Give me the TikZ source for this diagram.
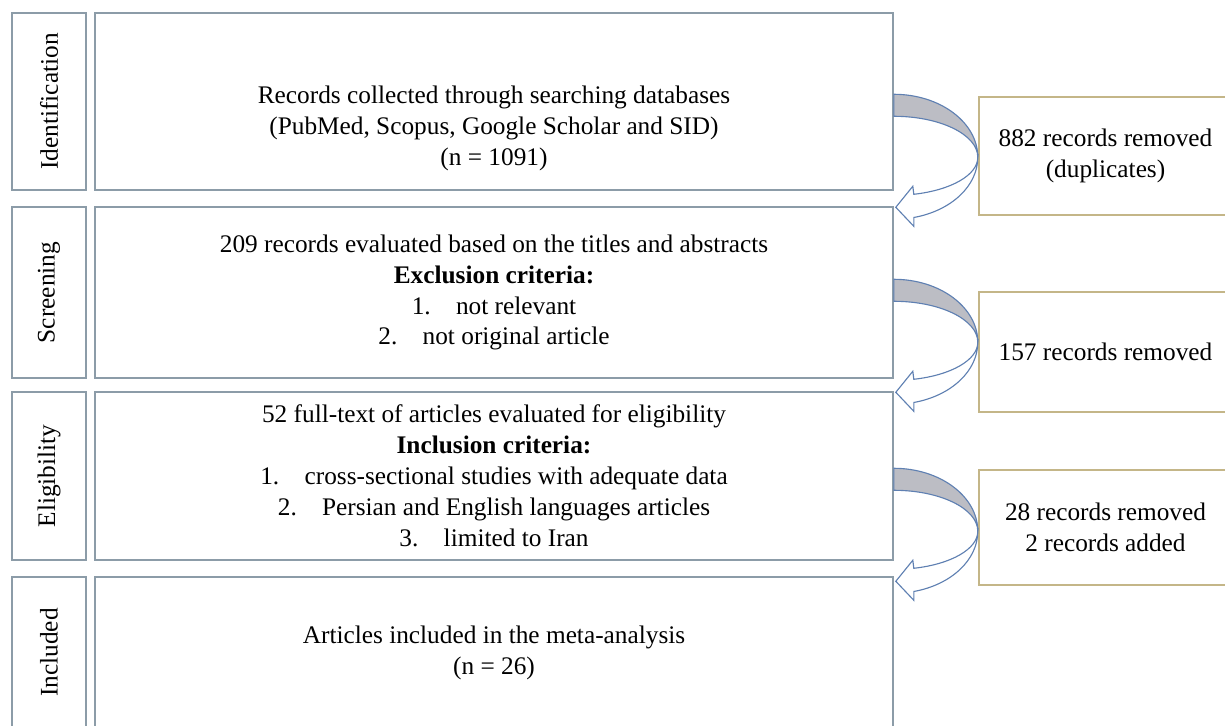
\documentclass[tikz,border=0pt]{standalone}
\usepackage{fontspec}
\setmainfont{Liberation Serif}
\usepackage{xcolor}
\usepackage{tikz}
\usetikzlibrary{calc}
\definecolor{boxgray}{RGB}{140, 156, 168}
\definecolor{boxkhaki}{RGB}{196, 182, 136}
\definecolor{arrowblue}{RGB}{95, 128, 178}
\definecolor{arrowgray}{RGB}{188, 189, 196}

\begin{document}
\begin{tikzpicture}[
	x=0.025cm, y=-0.025cm,
	every node/.style={font=\fontsize{18}{22}\selectfont, align=center},
	stagebox/.style={draw=boxgray, line width=1pt, rotate=90, minimum height=1.85cm},
	mainbox/.style={draw=boxgray, line width=1pt, minimum width=19.95cm},
	sidebox/.style={draw=boxkhaki, line width=1pt, minimum width=6.325cm},
	arrowline/.style={draw=arrowblue, line width=0.8pt},
	bendarrow/.pic={
		\filldraw[arrowline, fill=arrowgray]
			(0,0) arc[start angle=-90, end angle=0, x radius=84, y radius=63]
			arc[start angle=0, end angle=-90, x radius=84, y radius=41] -- cycle;
		\filldraw[arrowline, fill=white]
			(84,63) arc[start angle=0, end angle=76.2, x radius=84, y radius=62]
			-- (20,132) -- (2,113) -- (19,92) -- (20,100)
			arc[start angle=76.2, end angle=0, x radius=84, y radius=38] -- cycle;
	}
	]
	
	\path[use as bounding box, clip]
		(0,0) rectangle (1225,725);
	
	% stages
	\node[stagebox, minimum width=4.425cm] (ident) at (49,101.5) {Identification};
	\node[stagebox, minimum width=4.275cm] (screen) at (49,292.5) {Screening};
	\node[stagebox, minimum width=4.2cm] (elig) at (49,476) {Eligibility};
	\node[stagebox, minimum width=3.775cm] (incl) at (49,652.5) {Included};
	
	% main boxes
	\node[mainbox, minimum height=4.425cm] (identmain) at (494,101.5) {};
	\node (identtext) at ($(identmain.center)+(0,27)$)
		{Records collected through searching databases\\
		(PubMed, Scopus, Google Scholar and SID)\\
		(n = 1091)};
	\node[mainbox, minimum height=4.275cm] (screenmain) at (494,292.5)
		{209 records evaluated based on the titles and abstracts\\
		\textbf{Exclusion criteria:}\\
		1.\hspace{1em}not relevant\\
		2.\hspace{1em}not original article};
	\node[mainbox, minimum height=4.2cm] (eligmain) at (494,476)
		{52 full-text of articles evaluated for eligibility\\
		\textbf{Inclusion criteria:}\\
		1.\hspace{1em}cross-sectional studies with adequate data\\
		2.\hspace{1em}Persian and English languages articles\\
		3.\hspace{1em}limited to Iran};
	\node[mainbox, minimum height=3.775cm] (inclmain) at (494,652.5)
		{Articles included in the meta-analysis\\
		(n = 26)};
	
	% removed records
	\node[sidebox, minimum height=2.95cm] (duplrem) at (1105.5,156)
		{882 records removed\\
		(duplicates)};
	\node[sidebox, minimum height=3cm] (screenrem) at (1105.5,352)
		{157 records removed};
	\node[sidebox, minimum height=2.875cm] (eligrem) at (1105.5,527.5)
		{28 records removed\\
		2 records added};
	
	% curved arrows
	\pic at ($(identmain.north east)+(0,82)$) {bendarrow};
	\pic at ($(screenmain.north east)+(0,73)$) {bendarrow};
	\pic at ($(eligmain.north east)+(0,77)$) {bendarrow};
\end{tikzpicture}
\end{document}
